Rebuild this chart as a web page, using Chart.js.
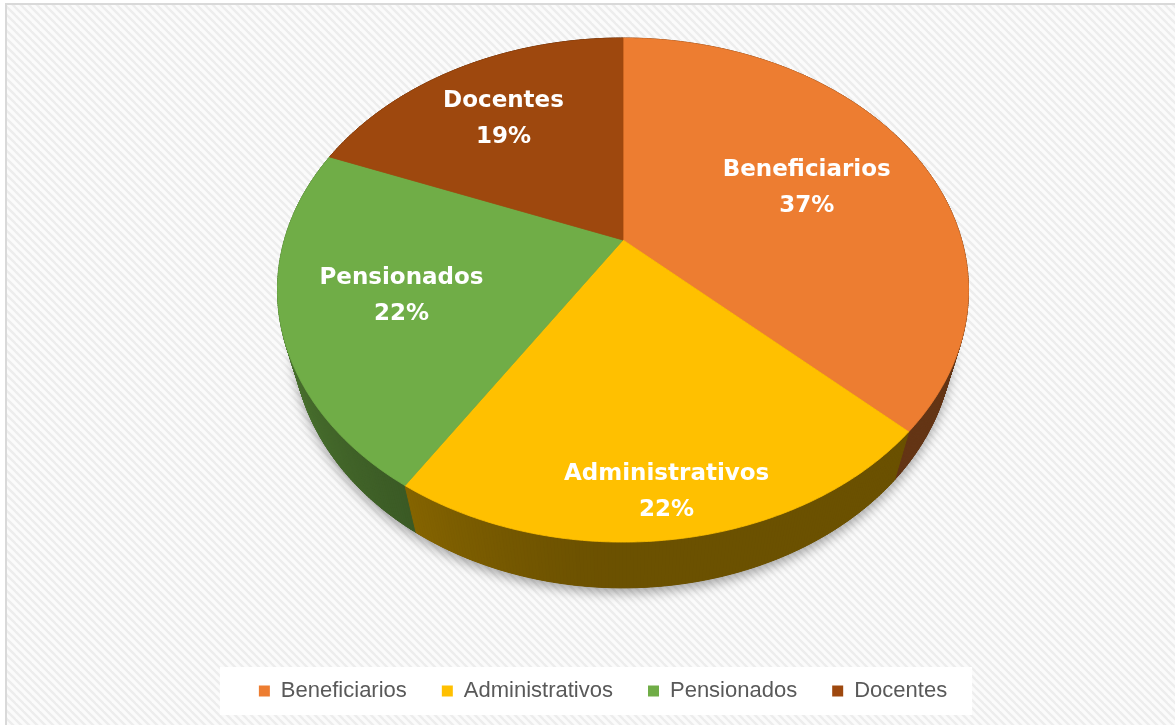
<!DOCTYPE html>
<html>
<head>
<meta charset="utf-8">
<script src="https://cdn.jsdelivr.net/npm/chart.js@4.4.1/dist/chart.umd.min.js"></script>
<style>
html,body{margin:0;padding:0;background:#fff;overflow:hidden}
#wrap{width:1175px;height:725px;position:relative}
canvas{display:block}
</style>
</head>
<body>
<div id="wrap"><canvas id="c" width="1175" height="725"></canvas></div>
<script>
// ---- data ----
const categories = ['Beneficiarios', 'Administrativos', 'Pensionados', 'Docentes'];
const shareValues = [37, 22, 22, 19];
const shareLabels = ['37%', '22%', '22%', '19%'];
const sliceColors = ['#ED7D31', '#FFC000', '#70AD47', '#9E480E'];

function shade(hex, f) {
  const n = parseInt(hex.slice(1), 16);
  const r = Math.round(((n >> 16) & 255) * f), g = Math.round(((n >> 8) & 255) * f), b = Math.round((n & 255) * f);
  return 'rgb(' + r + ',' + g + ',' + b + ')';
}

const stripeTile = (() => {
  const s = 8, c = document.createElement('canvas');
  c.width = c.height = s;
  const g = c.getContext('2d');
  g.fillStyle = '#fbfbfb'; g.fillRect(0, 0, s, s);
  g.strokeStyle = '#ededed'; g.lineWidth = 2.4;
  for (const k of [-s, 0, s]) { g.beginPath(); g.moveTo(k - 1, -1); g.lineTo(k + s + 1, s + 1); g.stroke(); }
  return c;
})();

const pie3d = {
  id: 'pie3d',
  beforeLayout(chart) {
    const lg = chart.legend;
    if (lg && !lg._patched) {
      const orig = lg.fit;
      lg.fit = function () { orig.call(this); this.height = chart.options.plugins.pie3d.legendHeight; };
      lg._patched = true;
    }
  },
  beforeDraw(chart, args, o) {
    const ctx = chart.ctx, W = chart.width, H = chart.height;
    ctx.save();
    ctx.fillStyle = '#fff'; ctx.fillRect(0, 0, W, H);
    ctx.fillStyle = ctx.createPattern(stripeTile, 'repeat');
    ctx.fillRect(o.frameLeft, o.frameTop, W, H);
    ctx.strokeStyle = '#d9d9d9'; ctx.lineWidth = 2;
    ctx.strokeRect(o.frameLeft - 1, o.frameTop - 1, W + 10, H + 10);
    const hb = chart.legend && chart.legend.legendHitBoxes;
    if (hb && hb.length) {
      const l = Math.min(...hb.map(b => b.left)) - o.legendPadL;
      const r = Math.max(...hb.map(b => b.left + b.width)) + o.legendPadR;
      const t = Math.min(...hb.map(b => b.top)) - o.legendPadV;
      const b = Math.max(...hb.map(b => b.top + b.height)) + o.legendPadV;
      ctx.fillStyle = '#fff'; ctx.fillRect(l, t, r - l, b - t);
    }
    ctx.restore();
  },
  beforeDatasetsDraw(chart, args, o) {
    const arcs = chart.getDatasetMeta(0).data;
    if (!arcs.length) return false;
    const a0 = arcs[0], R = a0.outerRadius;
    const cx = a0.x + o.shiftX * R, cy = a0.y + o.shiftY * R, w = o.scale * R;
    const A = o.tilt * Math.PI / 180, sA = Math.sin(A), cA = Math.cos(A);
    const D = o.distance, K = w * D, t = o.thickness;
    const P = (th, r, up) => {
      const X = r * Math.sin(th), Z = r * Math.cos(th);
      const depth = D + Z * cA - up * sA;
      const yc = Z * sA + up * cA;
      return [cx + K * X / depth, cy - K * yc / depth];
    };
    const deg = Math.PI / 180;
    const ctx = chart.ctx;
    ctx.save();
    const slices = arcs.map((a, i) => ({
      th0: a.startAngle + Math.PI / 2,
      th1: a.endAngle + Math.PI / 2,
      color: a.options.backgroundColor,
      i
    }));
    // shadow under the pie
    ctx.save();
    ctx.shadowColor = 'rgba(0,0,0,0.35)';
    ctx.shadowBlur = o.shadowBlur;
    ctx.shadowOffsetY = o.shadowOffset;
    ctx.fillStyle = '#6a5020';
    ctx.beginPath();
    for (let k = 0; k <= 720; k++) {
      const [x, y] = P(k * deg / 2, 1, -t);
      k ? ctx.lineTo(x, y) : ctx.moveTo(x, y);
    }
    ctx.closePath(); ctx.fill();
    ctx.restore();
    // side walls
    const segs = [];
    slices.forEach(s => {
      const n = Math.max(2, Math.ceil((s.th1 - s.th0) / (0.5 * deg)));
      for (let j = 0; j < n; j++) {
        segs.push({ a: s.th0 + (s.th1 - s.th0) * j / n, b: s.th0 + (s.th1 - s.th0) * (j + 1) / n, color: s.color });
      }
    });
    segs.sort((p, q) => Math.cos((q.a + q.b) / 2) - Math.cos((p.a + p.b) / 2));
    ctx.lineWidth = 1; ctx.lineJoin = 'round';
    segs.forEach(sg => {
      const m = (sg.a + sg.b) / 2;
      const f = o.wallBase + o.wallLight * Math.pow(Math.max(0, -Math.sin(m)), 1.5);
      const col = shade(sg.color, f);
      const p1 = P(sg.a, 1, 0), p2 = P(sg.b, 1, 0), p3 = P(sg.b, 1, -t), p4 = P(sg.a, 1, -t);
      ctx.beginPath(); ctx.moveTo(...p1); ctx.lineTo(...p2); ctx.lineTo(...p3); ctx.lineTo(...p4); ctx.closePath();
      ctx.fillStyle = col; ctx.strokeStyle = col; ctx.fill(); ctx.stroke();
    });
    // top faces
    ctx.lineWidth = 0.8;
    slices.forEach(s => {
      const n = Math.max(2, Math.ceil((s.th1 - s.th0) / (0.5 * deg)));
      ctx.beginPath();
      ctx.moveTo(...P(0, 0, 0));
      for (let j = 0; j <= n; j++) ctx.lineTo(...P(s.th0 + (s.th1 - s.th0) * j / n, 1, 0));
      ctx.closePath();
      ctx.fillStyle = s.color; ctx.strokeStyle = s.color; ctx.fill(); ctx.stroke();
    });
    // labels
    ctx.fillStyle = '#ffffff';
    ctx.font = 'bold ' + o.labelSize + 'px "DejaVu Sans", sans-serif';
    ctx.textAlign = 'center'; ctx.textBaseline = 'middle';
    slices.forEach(s => {
      const m = (s.th0 + s.th1) / 2;
      const [x, y] = P(m, o.labelRadius[s.i], 0);
      const yy = y + o.labelDy;
      ctx.fillText(chart.data.labels[s.i], x, yy - o.labelGap / 2);
      ctx.fillText(shareLabels[s.i], x, yy + o.labelGap / 2);
    });
    ctx.restore();
    return false;
  }
};

new Chart(document.getElementById('c'), {
  type: 'pie',
  data: {
    labels: categories,
    datasets: [{ data: shareValues, backgroundColor: sliceColors, borderWidth: 0, hoverOffset: 0 }]
  },
  options: {
    responsive: false,
    animation: false,
    events: [],
    layout: { padding: { top: 10, left: 31, right: 0, bottom: 10 } },
    plugins: {
      tooltip: { enabled: false },
      legend: {
        position: 'bottom',
        labels: {
          boxWidth: 11, boxHeight: 11, padding: 35, color: '#595959',
          font: { family: '"Liberation Sans", Arial, sans-serif', size: 22 }
        }
      },
      pie3d: {
        legendHeight: 70,
        frameLeft: 7, frameTop: 5,
        legendPadL: 39, legendPadR: 25, legendPadV: 13,
        shiftX: 0.063, shiftY: -0.2756, scale: 1.0665,
        tilt: 45.64, distance: 3.521, thickness: 0.221,
        shadowBlur: 12, shadowOffset: 5,
        wallBase: 0.42, wallLight: 0.26,
        labelSize: 23, labelGap: 36, labelDy: 5,
        labelRadius: [0.62, 0.855, 0.66, 0.7]
      }
    }
  },
  plugins: [pie3d]
});
</script>
</body>
</html>
